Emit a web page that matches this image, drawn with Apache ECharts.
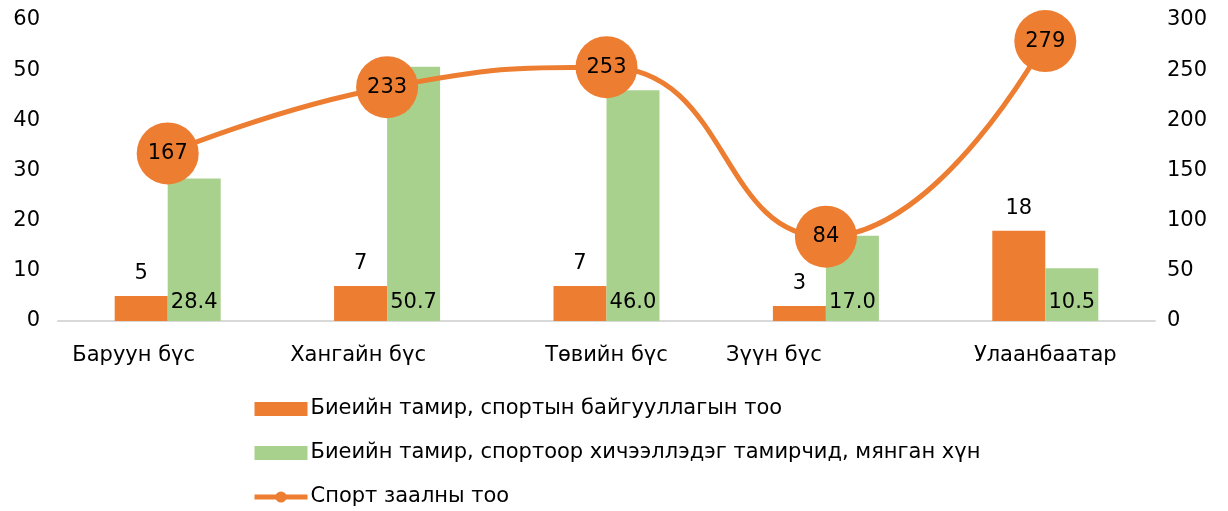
<!DOCTYPE html>
<html><head><meta charset="utf-8">
<script src="https://cdn.jsdelivr.net/npm/echarts@6/dist/echarts.min.js"></script>
<style>html,body{margin:0;padding:0;background:#fff}#c{width:1228px;height:511px}</style>
</head><body><div id="c"></div>
<script>
const categories = ['Баруун бүс','Хангайн бүс','Төвийн бүс','Зүүн бүс','Улаанбаатар'];
const orgCount = [5,7,7,3,18];
const athletes = [28.4,50.7,46.0,17.0,10.5];
const halls = [167,233,253,84,279];
const seriesNames = ['Биеийн тамир, спортын байгууллагын тоо','Биеийн тамир, спортоор хичээллэдэг тамирчид, мянган хүн','Спорт заалны тоо'];
const leftTicks = [0,60,10];
const rightTicks = [0,300,50];

const ORANGE = '#ED7D31', GREEN = '#A9D18E';
const FONT = 'DejaVu Sans';
const FS = 21;
const labelShift = [68,58,0,104,0];
const rich = {};
labelShift.forEach((s,i)=>{ rich['a'+i] = {padding:[0,s,0,0], fontSize:FS, fontFamily:FONT, color:'#000'}; });

const chart = echarts.init(document.getElementById('c'));
chart.setOption({
  animation:false,
  textStyle:{fontFamily:FONT},
  grid:{left:58,right:73,top:20,bottom:190,containLabel:false},
  legend:{
    orient:'vertical', left:252, top:398, padding:0, itemGap:22, itemWidth:53, itemHeight:14,
    textStyle:{fontSize:FS, lineHeight:22, fontFamily:FONT, color:'#000', padding:[0,0,0,-2]},
    data:[{name:seriesNames[0],icon:'rect'},{name:seriesNames[1],icon:'rect'},
          {name:seriesNames[2],lineStyle:{width:5}}]
  },
  xAxis:{
    type:'category', data:categories,
    axisLine:{lineStyle:{color:'#D9D9D9',width:2}}, axisTick:{show:false},
    axisLabel:{margin:24, fontSize:FS, color:'#000', interval:0, hideOverlap:false,
      formatter:(v,i)=>'{a'+i+'|'+v+'}', rich:rich}
  },
  yAxis:[
    {type:'value',min:leftTicks[0],max:leftTicks[1],interval:leftTicks[2],
     splitLine:{show:false},axisLine:{show:false},axisTick:{show:false},
     axisLabel:{fontSize:FS,color:'#000',margin:18}},
    {type:'value',min:rightTicks[0],max:rightTicks[1],interval:rightTicks[2],
     splitLine:{show:false},axisLine:{show:false},axisTick:{show:false},
     axisLabel:{fontSize:FS,color:'#000',margin:12}}
  ],
  series:[
    {name:seriesNames[0],type:'bar',data:orgCount,barWidth:53,barGap:'0%',
     itemStyle:{color:ORANGE},
     label:{show:true,position:'top',distance:12,fontSize:FS,color:'#000',fontFamily:FONT}},
    {name:seriesNames[1],type:'bar',data:athletes,barWidth:53,barGap:'0%',
     itemStyle:{color:GREEN},
     label:{show:true,position:'insideBottom',distance:8,fontSize:FS,color:'#000',fontFamily:FONT,
       formatter:p=>p.value.toFixed(1)}},
    {name:seriesNames[2],type:'line',yAxisIndex:1,data:halls,smooth:0.5,
     symbol:'circle',symbolSize:62,
     lineStyle:{color:ORANGE,width:5},itemStyle:{color:ORANGE},
     label:{show:true,position:'inside',fontSize:FS,color:'#000',fontFamily:FONT},
     z:5}
  ]
});
</script></body></html>
